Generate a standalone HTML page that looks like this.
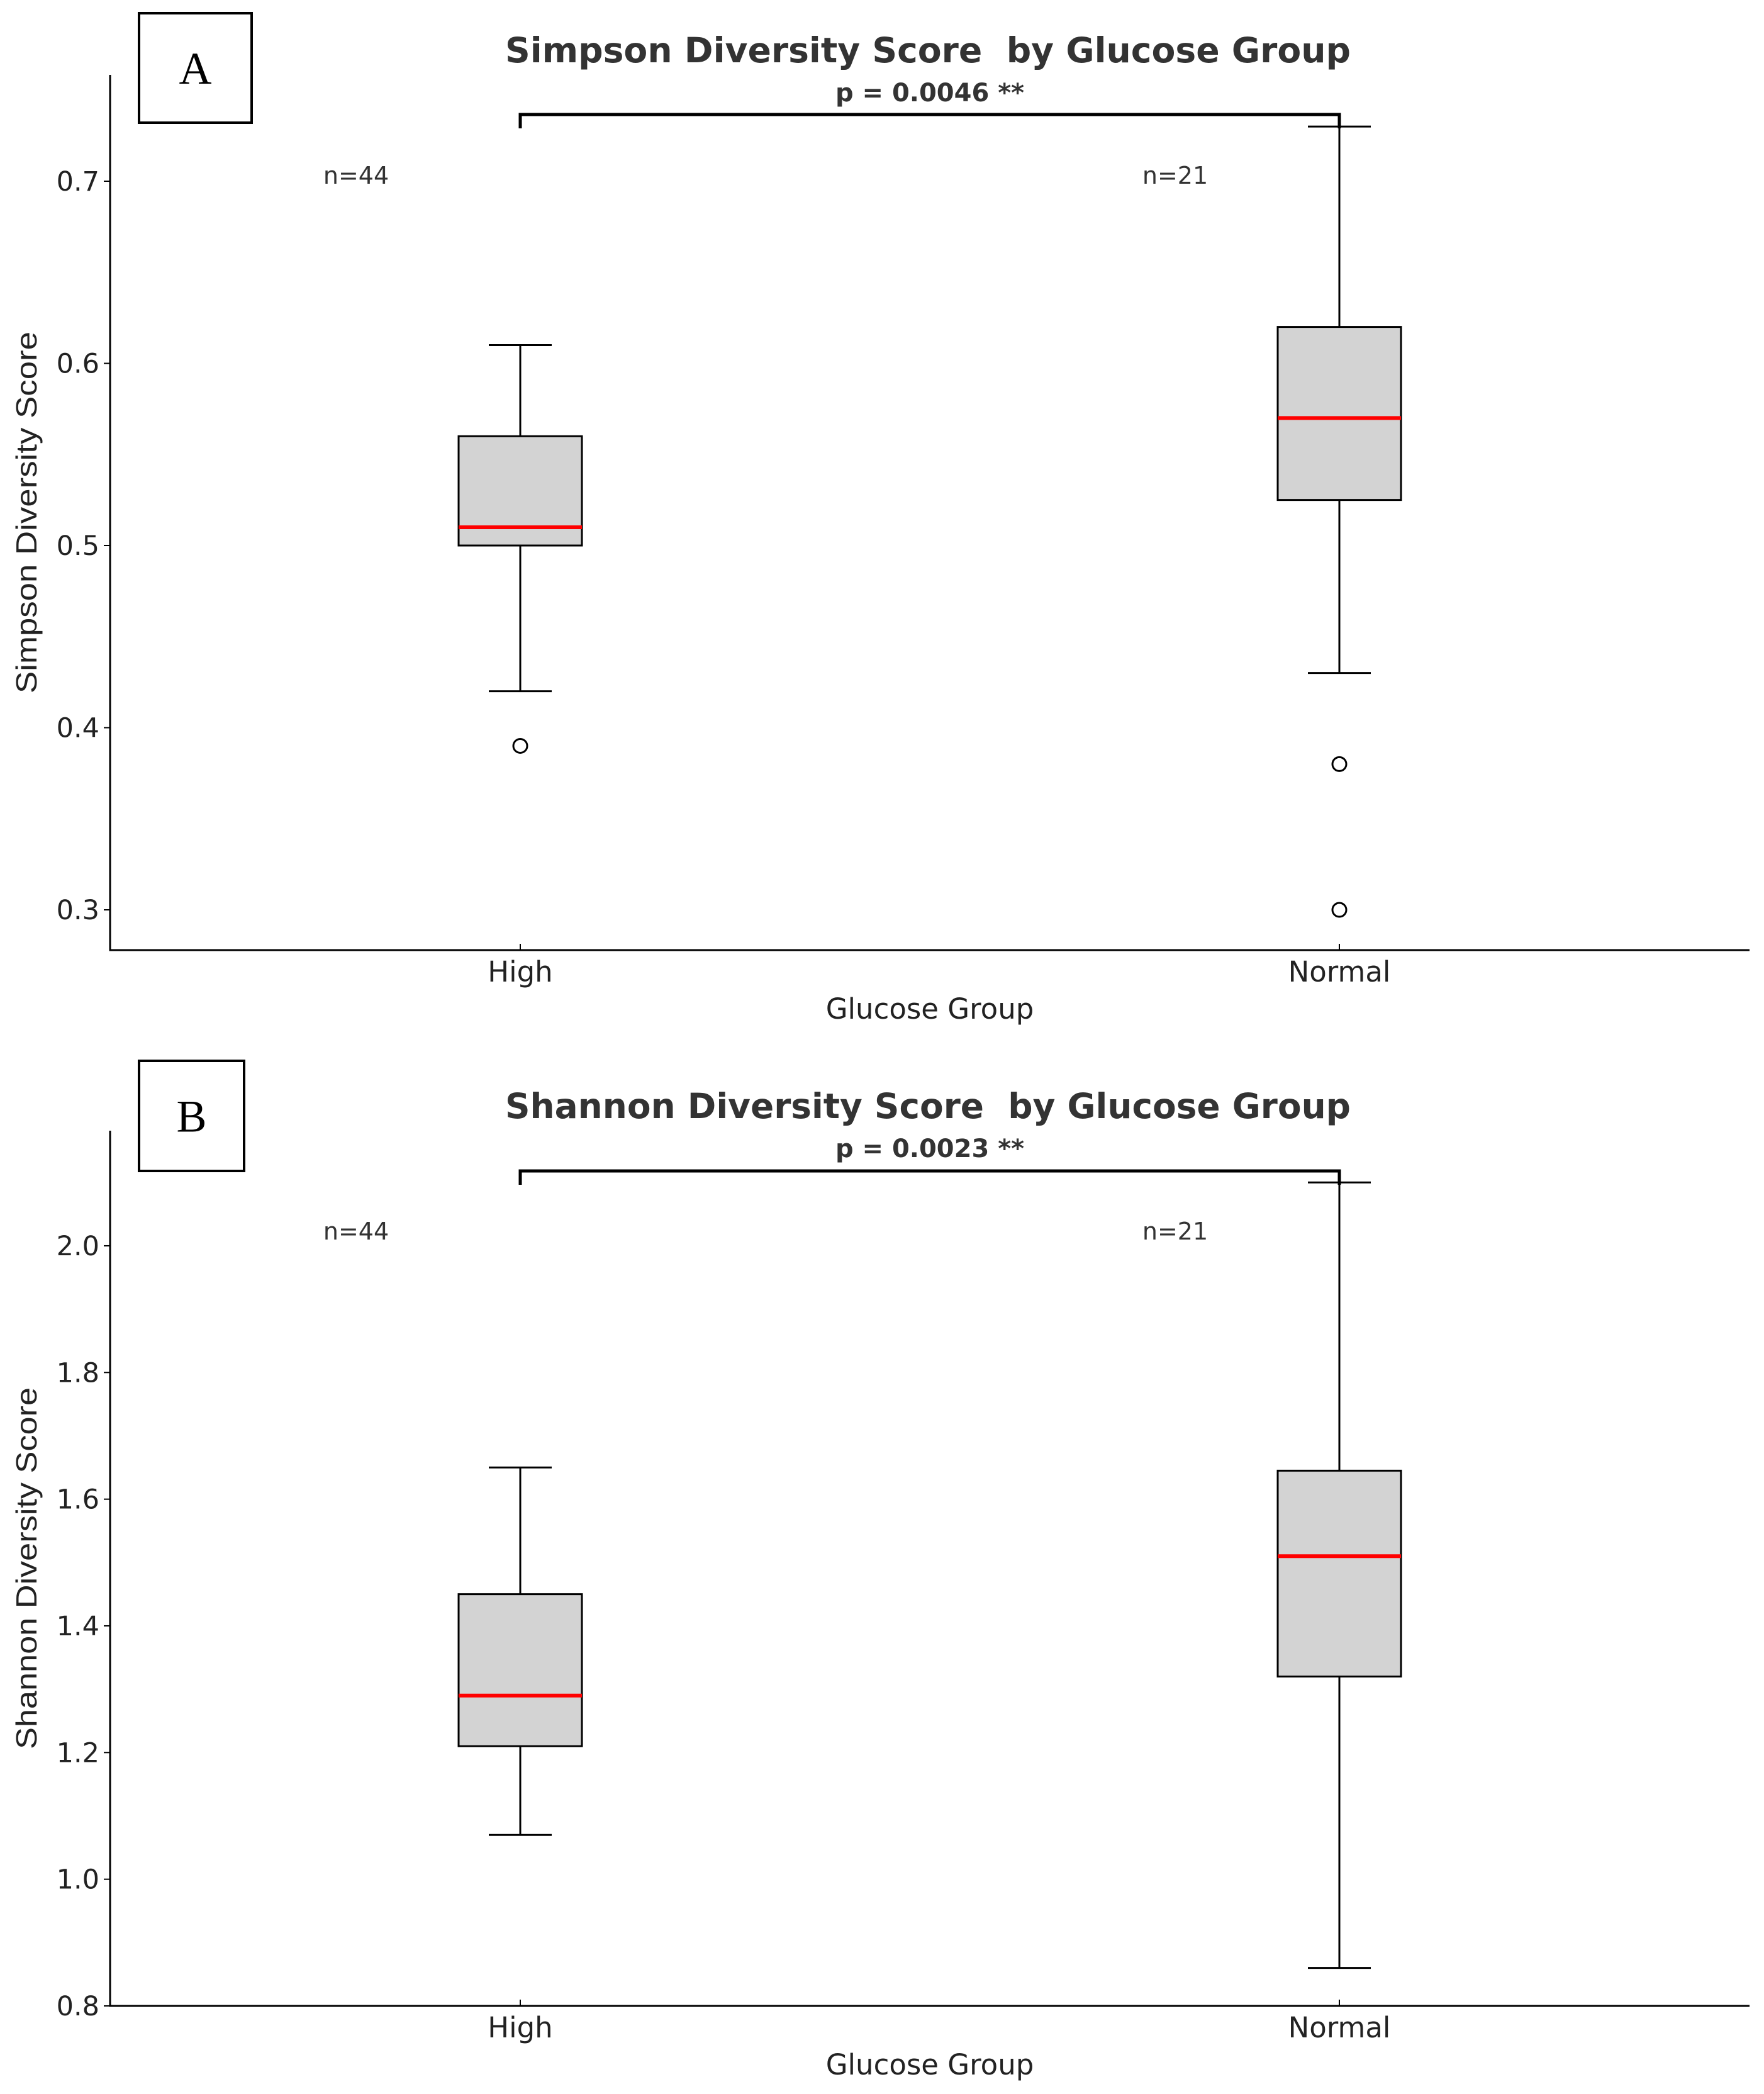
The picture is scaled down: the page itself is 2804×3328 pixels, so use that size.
<!DOCTYPE html>
<html><head><meta charset="utf-8"><style>
html,body{margin:0;padding:0;background:#fff;}
svg{display:block;}
text{font-family:"DejaVu Sans","Liberation Sans",sans-serif;white-space:pre;}
</style></head><body>
<svg id="fig" width="2804" height="3328" viewBox="0 0 2804 3328" xmlns="http://www.w3.org/2000/svg"></svg>
<script>
const categories = ["High", "Normal"];
const counts = ["n=44", "n=21"];
// Panel A: Simpson
const simpsonLow = [0.42, 0.43];
const simpsonQ1 = [0.50, 0.525];
const simpsonMed = [0.51, 0.57];
const simpsonQ3 = [0.56, 0.62];
const simpsonHigh = [0.61, 0.73];
const simpsonOutliers = [[0.39], [0.38, 0.30]];
const simpsonTicks = [0.3, 0.4, 0.5, 0.6, 0.7];
const simpsonTickLabels = ["0.3", "0.4", "0.5", "0.6", "0.7"];
// Panel B: Shannon
const shannonLow = [1.07, 0.86];
const shannonQ1 = [1.21, 1.32];
const shannonMed = [1.29, 1.51];
const shannonQ3 = [1.45, 1.645];
const shannonHigh = [1.65, 2.10];
const shannonOutliers = [[], []];
const shannonTicks = [0.8, 1.0, 1.2, 1.4, 1.6, 1.8, 2.0];
const shannonTickLabels = ["0.8", "1.0", "1.2", "1.4", "1.6", "1.8", "2.0"];

const NS = "http://www.w3.org/2000/svg";
const svg = document.getElementById("fig");
function mk(tag, attrs, parent, txt) {
  const e = document.createElementNS(NS, tag);
  for (const k in attrs) e.setAttribute(k, attrs[k]);
  if (txt !== undefined) e.textContent = txt;
  (parent || svg).appendChild(e);
  return e;
}

function panel(cfg) {
  const g = mk("g", {});
  
  
  const x0 = 175, x1 = 2781;
  const y = v => cfg.yRef + (cfg.vRef - v) * cfg.pxPerUnit;
  const xc = i => [827, 2129][i];
  const lb = mk("rect", {x: 221, y: cfg.labelY, width: cfg.labelW, height: cfg.labelH, fill: "none", stroke: "#000", "stroke-width": 4}, g);
  
  
  const lt = mk("text", {x: 221 + cfg.labelW / 2, y: cfg.labelY + cfg.labelH / 2 + 25, "text-anchor": "middle", "font-size": 72, style: "font-family:'Liberation Serif',serif", fill: "#000"}, g, cfg.letter);
  
  
  const ya = mk("line", {x1: x0, y1: cfg.axTop, x2: x0, y2: cfg.axBot, stroke: "#000", "stroke-width": 3}, g);
  
  
  const xa = mk("line", {x1: x0 - 1.5, y1: cfg.axBot, x2: x1, y2: cfg.axBot, stroke: "#000", "stroke-width": 3}, g);
  
  
  cfg.ticks.forEach((t, i) => {
    const ty = y(t);
    mk("line", {x1: x0 - 10, y1: ty, x2: x0, y2: ty, stroke: "#000", "stroke-width": 2}, g);
    const tl = mk("text", {x: 158, y: ty + 15, "text-anchor": "end", "font-size": 43, fill: "#222"}, g, cfg.tickLabels[i]);
    
    
  });
  categories.forEach((c, i) => {
    mk("line", {x1: xc(i), y1: cfg.axBot, x2: xc(i), y2: cfg.axBot - 10, stroke: "#000", "stroke-width": 2}, g);
    const cl = mk("text", {x: xc(i), y: cfg.axBot + 50, "text-anchor": "middle", "font-size": 45, fill: "#222"}, g, c);
    
    
  });
  const xt = mk("text", {x: 1478, y: cfg.axBot + 109, "text-anchor": "middle", "font-size": 45, fill: "#222"}, g, "Glucose Group");
  
  
  const cy = (cfg.axTop + cfg.axBot) / 2;
  const yt = mk("text", {x: 0, y: 0, transform: `translate(58 ${cy}) rotate(-90)`, "text-anchor": "middle", "font-size": 46, fill: "#222", textLength: 575, lengthAdjust: "spacingAndGlyphs", style: "font-family:'Liberation Sans Narrow','Liberation Sans',sans-serif"}, g, cfg.yTitle);
  
  
  const tt = mk("text", {x: 1475, y: cfg.titleY + 20, "text-anchor": "middle", "font-size": 55, "font-weight": "bold", fill: "#333", textLength: 1344, lengthAdjust: "spacingAndGlyphs"}, g, cfg.title);
  
  
  const pt = mk("text", {x: 1478, y: cfg.titleY + 82, "text-anchor": "middle", "font-size": 40, "font-weight": "bold", fill: "#333"}, g, cfg.pText);
  
  
  const br = mk("path", {d: `M${xc(0)} ${cfg.bracketY + 22} V${cfg.bracketY} H${xc(1)} V${cfg.bracketY + 22}`, fill: "none", stroke: "#000", "stroke-width": 5}, g);
  
  
  categories.forEach((c, i) => {
    const x = xc(i), hw = 98, cw = 50;
    const bg = mk("g", {}, g);
    
    
    mk("line", {x1: x, y1: y(cfg.high[i]), x2: x, y2: y(cfg.q3[i]), stroke: "#000", "stroke-width": 3}, bg);
    mk("line", {x1: x, y1: y(cfg.q1[i]), x2: x, y2: y(cfg.low[i]), stroke: "#000", "stroke-width": 3}, bg);
    mk("line", {x1: x - cw, y1: y(cfg.high[i]), x2: x + cw, y2: y(cfg.high[i]), stroke: "#000", "stroke-width": 3}, bg);
    mk("line", {x1: x - cw, y1: y(cfg.low[i]), x2: x + cw, y2: y(cfg.low[i]), stroke: "#000", "stroke-width": 3}, bg);
    mk("rect", {x: x - hw, y: y(cfg.q3[i]), width: 2 * hw, height: y(cfg.q1[i]) - y(cfg.q3[i]), fill: "#d3d3d3", stroke: "#000", "stroke-width": 3}, bg);
    const md = mk("line", {x1: x - hw, y1: y(cfg.med[i]), x2: x + hw, y2: y(cfg.med[i]), stroke: "#ff0000", "stroke-width": 6}, bg);
    
    
    cfg.outliers[i].forEach(v => {
      const o = mk("circle", {cx: x, cy: y(v), r: 11, fill: "none", stroke: "#000", "stroke-width": 3}, bg);
      
      
    });
    const nl = mk("text", {x: [566, 1868][i], y: cfg.nY, "text-anchor": "middle", "font-size": 38, fill: "#333"}, g, counts[i]);
    
    
  });
}

panel({name: "panel-a-simpson", letter: "A", labelY: 21, labelW: 179, labelH: 174,
  axTop: 119, axBot: 1510, yRef: 1446, vRef: 0.3, pxPerUnit: 2895,
  ticks: simpsonTicks, tickLabels: simpsonTickLabels,
  low: simpsonLow, q1: simpsonQ1, med: simpsonMed, q3: simpsonQ3, high: simpsonHigh, outliers: simpsonOutliers,
  title: "Simpson Diversity Score  by Glucose Group", pText: "p = 0.0046 **", titleY: 79, bracketY: 182, nY: 292,
  yTitle: "Simpson Diversity Score"});
panel({name: "panel-b-shannon", letter: "B", labelY: 1686, labelW: 167, labelH: 175,
  axTop: 1797, axBot: 3188, yRef: 3188, vRef: 0.8, pxPerUnit: 1006.7,
  ticks: shannonTicks, tickLabels: shannonTickLabels,
  low: shannonLow, q1: shannonQ1, med: shannonMed, q3: shannonQ3, high: shannonHigh, outliers: shannonOutliers,
  title: "Shannon Diversity Score  by Glucose Group", pText: "p = 0.0023 **", titleY: 1757, bracketY: 1861, nY: 1970,
  yTitle: "Shannon Diversity Score"});
</script>
</body></html>
